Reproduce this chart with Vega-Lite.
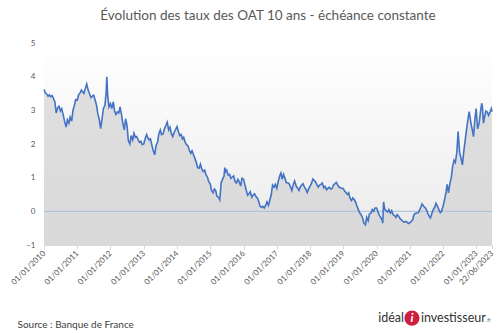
{
"$schema": "https://vega.github.io/schema/vega-lite/v6.json",
"width": 448, "height": 202,
"autosize": "none",
"padding": {"left": 44, "top": 43, "right": 8, "bottom": 88},
"background": "white",
"config": {"view": {"stroke": null}, "font": "Lato",
  "axisY": {"values": [-1, 0, 1, 2, 3, 4, 5], "format": "d", "ticks": false, "domain": false, "grid": false, "labelPadding": 9, "labelFontSize": 8, "labelColor": "#595959"}},
"title": {"text": "Évolution des taux des OAT 10 ans - échéance constante", "fontSize": 13.5, "fontWeight": "normal", "color": "#595959", "font": "Lato", "offset": 17, "anchor": "middle"},
"datasets": {"oat": [
{"d":"2010-01-01","v":3.62},{"d":"2010-01-15","v":3.52},{"d":"2010-02-01","v":3.48},{"d":"2010-02-15","v":3.42},{"d":"2010-03-01","v":3.46},{"d":"2010-03-15","v":3.40},{"d":"2010-04-01","v":3.44},{"d":"2010-04-15","v":3.35},{"d":"2010-05-01","v":3.25},{"d":"2010-05-15","v":2.92},{"d":"2010-06-01","v":3.08},{"d":"2010-06-15","v":3.12},{"d":"2010-07-01","v":2.98},{"d":"2010-07-15","v":3.05},{"d":"2010-08-01","v":2.85},{"d":"2010-08-15","v":2.68},{"d":"2010-09-01","v":2.50},{"d":"2010-09-15","v":2.72},{"d":"2010-10-01","v":2.62},{"d":"2010-10-15","v":2.80},{"d":"2010-11-01","v":2.68},{"d":"2010-11-15","v":3.00},{"d":"2010-12-01","v":3.15},{"d":"2010-12-15","v":3.32},
{"d":"2011-01-01","v":3.30},{"d":"2011-01-15","v":3.45},{"d":"2011-02-01","v":3.52},{"d":"2011-02-15","v":3.60},{"d":"2011-03-01","v":3.55},{"d":"2011-03-15","v":3.50},{"d":"2011-04-01","v":3.66},{"d":"2011-04-15","v":3.78},{"d":"2011-05-01","v":3.60},{"d":"2011-05-15","v":3.50},{"d":"2011-06-01","v":3.38},{"d":"2011-06-15","v":3.42},{"d":"2011-07-01","v":3.45},{"d":"2011-07-15","v":3.32},{"d":"2011-08-01","v":3.15},{"d":"2011-08-15","v":2.90},{"d":"2011-09-01","v":2.72},{"d":"2011-09-15","v":2.46},{"d":"2011-10-01","v":2.75},{"d":"2011-10-15","v":3.05},{"d":"2011-11-01","v":3.15},{"d":"2011-11-15","v":3.55},{"d":"2011-11-22","v":4.00},{"d":"2011-12-01","v":3.45},{"d":"2011-12-15","v":3.10},
{"d":"2012-01-01","v":3.20},{"d":"2012-01-15","v":3.05},{"d":"2012-02-01","v":3.25},{"d":"2012-02-15","v":2.98},{"d":"2012-03-01","v":2.88},{"d":"2012-03-15","v":2.95},{"d":"2012-04-01","v":2.92},{"d":"2012-04-15","v":3.10},{"d":"2012-05-01","v":2.88},{"d":"2012-05-15","v":2.62},{"d":"2012-06-01","v":2.42},{"d":"2012-06-15","v":2.75},{"d":"2012-07-01","v":2.55},{"d":"2012-07-15","v":2.10},{"d":"2012-08-01","v":2.00},{"d":"2012-08-15","v":2.25},{"d":"2012-09-01","v":2.12},{"d":"2012-09-15","v":2.32},{"d":"2012-10-01","v":2.20},{"d":"2012-10-15","v":2.22},{"d":"2012-11-01","v":2.12},{"d":"2012-11-15","v":2.05},{"d":"2012-12-01","v":2.08},{"d":"2012-12-15","v":1.98},
{"d":"2013-01-01","v":2.00},{"d":"2013-01-15","v":2.15},{"d":"2013-02-01","v":2.28},{"d":"2013-02-15","v":2.18},{"d":"2013-03-01","v":2.12},{"d":"2013-03-15","v":2.15},{"d":"2013-04-01","v":1.95},{"d":"2013-04-15","v":1.80},{"d":"2013-05-01","v":1.68},{"d":"2013-05-15","v":1.95},{"d":"2013-06-01","v":2.05},{"d":"2013-06-15","v":2.30},{"d":"2013-07-01","v":2.42},{"d":"2013-07-15","v":2.28},{"d":"2013-08-01","v":2.30},{"d":"2013-08-15","v":2.45},{"d":"2013-09-01","v":2.55},{"d":"2013-09-15","v":2.65},{"d":"2013-10-01","v":2.42},{"d":"2013-10-15","v":2.50},{"d":"2013-11-01","v":2.30},{"d":"2013-11-15","v":2.22},{"d":"2013-12-01","v":2.35},{"d":"2013-12-15","v":2.42},
{"d":"2014-01-01","v":2.52},{"d":"2014-01-15","v":2.38},{"d":"2014-02-01","v":2.25},{"d":"2014-02-15","v":2.28},{"d":"2014-03-01","v":2.15},{"d":"2014-03-15","v":2.20},{"d":"2014-04-01","v":2.05},{"d":"2014-04-15","v":1.98},{"d":"2014-05-01","v":1.95},{"d":"2014-05-15","v":1.82},{"d":"2014-06-01","v":1.72},{"d":"2014-06-15","v":1.80},{"d":"2014-07-01","v":1.68},{"d":"2014-07-15","v":1.58},{"d":"2014-08-01","v":1.45},{"d":"2014-08-15","v":1.30},{"d":"2014-09-01","v":1.28},{"d":"2014-09-15","v":1.40},{"d":"2014-10-01","v":1.25},{"d":"2014-10-15","v":1.18},{"d":"2014-11-01","v":1.22},{"d":"2014-11-15","v":1.08},{"d":"2014-12-01","v":1.02},{"d":"2014-12-15","v":0.88},
{"d":"2015-01-01","v":0.82},{"d":"2015-01-15","v":0.62},{"d":"2015-02-01","v":0.55},{"d":"2015-02-15","v":0.66},{"d":"2015-03-01","v":0.62},{"d":"2015-03-15","v":0.45},{"d":"2015-04-01","v":0.42},{"d":"2015-04-15","v":0.34},{"d":"2015-05-01","v":0.85},{"d":"2015-05-15","v":0.95},{"d":"2015-06-01","v":1.05},{"d":"2015-06-10","v":1.30},{"d":"2015-06-20","v":1.18},{"d":"2015-07-01","v":1.22},{"d":"2015-07-15","v":1.08},{"d":"2015-08-01","v":1.10},{"d":"2015-08-15","v":0.98},{"d":"2015-09-01","v":1.02},{"d":"2015-09-15","v":1.05},{"d":"2015-10-01","v":0.88},{"d":"2015-10-15","v":0.84},{"d":"2015-11-01","v":0.95},{"d":"2015-11-15","v":0.88},{"d":"2015-12-01","v":0.75},{"d":"2015-12-15","v":0.98},
{"d":"2016-01-01","v":0.95},{"d":"2016-01-15","v":0.80},{"d":"2016-02-01","v":0.62},{"d":"2016-02-15","v":0.48},{"d":"2016-03-01","v":0.52},{"d":"2016-03-15","v":0.58},{"d":"2016-04-01","v":0.42},{"d":"2016-04-15","v":0.48},{"d":"2016-05-01","v":0.52},{"d":"2016-05-15","v":0.45},{"d":"2016-06-01","v":0.40},{"d":"2016-06-15","v":0.30},{"d":"2016-07-01","v":0.15},{"d":"2016-07-15","v":0.12},{"d":"2016-08-01","v":0.15},{"d":"2016-08-15","v":0.10},{"d":"2016-09-01","v":0.18},{"d":"2016-09-15","v":0.28},{"d":"2016-10-01","v":0.18},{"d":"2016-10-15","v":0.32},{"d":"2016-11-01","v":0.50},{"d":"2016-11-15","v":0.78},{"d":"2016-12-01","v":0.72},{"d":"2016-12-15","v":0.80},
{"d":"2017-01-01","v":0.68},{"d":"2017-01-15","v":0.88},{"d":"2017-02-01","v":1.05},{"d":"2017-02-15","v":1.14},{"d":"2017-03-01","v":0.95},{"d":"2017-03-15","v":1.10},{"d":"2017-04-01","v":0.98},{"d":"2017-04-15","v":0.85},{"d":"2017-05-01","v":0.85},{"d":"2017-05-15","v":0.82},{"d":"2017-06-01","v":0.72},{"d":"2017-06-15","v":0.62},{"d":"2017-07-01","v":0.80},{"d":"2017-07-15","v":0.90},{"d":"2017-08-01","v":0.75},{"d":"2017-08-15","v":0.70},{"d":"2017-09-01","v":0.62},{"d":"2017-09-15","v":0.72},{"d":"2017-10-01","v":0.78},{"d":"2017-10-15","v":0.82},{"d":"2017-11-01","v":0.72},{"d":"2017-11-15","v":0.66},{"d":"2017-12-01","v":0.56},{"d":"2017-12-15","v":0.66},
{"d":"2018-01-01","v":0.75},{"d":"2018-01-15","v":0.82},{"d":"2018-02-01","v":0.96},{"d":"2018-02-15","v":0.92},{"d":"2018-03-01","v":0.88},{"d":"2018-03-15","v":0.80},{"d":"2018-04-01","v":0.72},{"d":"2018-04-15","v":0.78},{"d":"2018-05-01","v":0.80},{"d":"2018-05-15","v":0.84},{"d":"2018-06-01","v":0.70},{"d":"2018-06-15","v":0.74},{"d":"2018-07-01","v":0.64},{"d":"2018-07-15","v":0.68},{"d":"2018-08-01","v":0.72},{"d":"2018-08-15","v":0.66},{"d":"2018-09-01","v":0.68},{"d":"2018-09-15","v":0.78},{"d":"2018-10-01","v":0.82},{"d":"2018-10-15","v":0.86},{"d":"2018-11-01","v":0.78},{"d":"2018-11-15","v":0.72},{"d":"2018-12-01","v":0.70},{"d":"2018-12-15","v":0.68},
{"d":"2019-01-01","v":0.68},{"d":"2019-01-15","v":0.60},{"d":"2019-02-01","v":0.55},{"d":"2019-02-15","v":0.50},{"d":"2019-03-01","v":0.55},{"d":"2019-03-15","v":0.40},{"d":"2019-04-01","v":0.32},{"d":"2019-04-15","v":0.40},{"d":"2019-05-01","v":0.35},{"d":"2019-05-15","v":0.28},{"d":"2019-06-01","v":0.15},{"d":"2019-06-15","v":0.05},{"d":"2019-07-01","v":-0.05},{"d":"2019-07-15","v":-0.10},{"d":"2019-08-01","v":-0.20},{"d":"2019-08-15","v":-0.35},{"d":"2019-09-01","v":-0.40},{"d":"2019-09-15","v":-0.18},{"d":"2019-10-01","v":-0.28},{"d":"2019-10-15","v":-0.08},{"d":"2019-11-01","v":-0.05},{"d":"2019-11-15","v":0.05},{"d":"2019-12-01","v":0.00},{"d":"2019-12-15","v":0.10},
{"d":"2020-01-01","v":0.10},{"d":"2020-01-15","v":0.00},{"d":"2020-02-01","v":-0.12},{"d":"2020-02-15","v":-0.18},{"d":"2020-03-01","v":-0.25},{"d":"2020-03-09","v":-0.35},{"d":"2020-03-18","v":0.28},{"d":"2020-04-01","v":0.05},{"d":"2020-04-15","v":0.02},{"d":"2020-05-01","v":-0.02},{"d":"2020-05-15","v":0.05},{"d":"2020-06-01","v":-0.05},{"d":"2020-06-15","v":0.02},{"d":"2020-07-01","v":-0.10},{"d":"2020-07-15","v":-0.12},{"d":"2020-08-01","v":-0.18},{"d":"2020-08-15","v":-0.10},{"d":"2020-09-01","v":-0.15},{"d":"2020-09-15","v":-0.22},{"d":"2020-10-01","v":-0.25},{"d":"2020-10-15","v":-0.30},{"d":"2020-11-01","v":-0.32},{"d":"2020-11-15","v":-0.30},{"d":"2020-12-01","v":-0.32},{"d":"2020-12-15","v":-0.36},
{"d":"2021-01-01","v":-0.34},{"d":"2021-01-15","v":-0.30},{"d":"2021-02-01","v":-0.25},{"d":"2021-02-15","v":-0.10},{"d":"2021-03-01","v":-0.06},{"d":"2021-03-15","v":-0.05},{"d":"2021-04-01","v":-0.05},{"d":"2021-04-15","v":0.02},{"d":"2021-05-01","v":0.12},{"d":"2021-05-15","v":0.22},{"d":"2021-06-01","v":0.15},{"d":"2021-06-15","v":0.12},{"d":"2021-07-01","v":0.05},{"d":"2021-07-15","v":-0.05},{"d":"2021-08-01","v":-0.15},{"d":"2021-08-15","v":-0.20},{"d":"2021-09-01","v":-0.05},{"d":"2021-09-15","v":0.05},{"d":"2021-10-01","v":0.12},{"d":"2021-10-15","v":0.24},{"d":"2021-11-01","v":0.15},{"d":"2021-11-15","v":0.05},{"d":"2021-12-01","v":-0.04},{"d":"2021-12-15","v":0.00},
{"d":"2022-01-01","v":0.15},{"d":"2022-01-15","v":0.32},{"d":"2022-02-01","v":0.55},{"d":"2022-02-15","v":0.80},{"d":"2022-03-01","v":0.55},{"d":"2022-03-15","v":0.80},{"d":"2022-04-01","v":1.00},{"d":"2022-04-15","v":1.32},{"d":"2022-05-01","v":1.52},{"d":"2022-05-15","v":1.45},{"d":"2022-06-01","v":1.75},{"d":"2022-06-15","v":2.37},{"d":"2022-07-01","v":1.75},{"d":"2022-07-15","v":1.60},{"d":"2022-08-01","v":1.38},{"d":"2022-08-15","v":1.75},{"d":"2022-09-01","v":2.12},{"d":"2022-09-15","v":2.42},{"d":"2022-10-01","v":2.75},{"d":"2022-10-15","v":2.96},{"d":"2022-11-01","v":2.65},{"d":"2022-11-15","v":2.45},{"d":"2022-12-01","v":2.22},{"d":"2022-12-15","v":2.70},{"d":"2022-12-30","v":3.05},
{"d":"2023-01-15","v":2.45},{"d":"2023-02-01","v":2.62},{"d":"2023-02-15","v":2.95},{"d":"2023-03-01","v":3.21},{"d":"2023-03-08","v":3.12},{"d":"2023-03-20","v":2.62},{"d":"2023-04-01","v":2.80},{"d":"2023-04-15","v":2.98},{"d":"2023-05-01","v":2.95},{"d":"2023-05-15","v":2.85},{"d":"2023-06-01","v":2.95},{"d":"2023-06-15","v":3.05},{"d":"2023-06-22","v":2.96}
]},
"data": {"name": "oat"},
"encoding": {
  "x": {"field": "d", "type": "temporal",
    "scale": {"domain": [{"year": 2010, "month": 1, "date": 1}, {"year": 2023, "month": 6, "date": 22}]},
    "axis": {
      "values": [{"year":2010,"month":1,"date":1},{"year":2011,"month":1,"date":1},{"year":2012,"month":1,"date":1},{"year":2013,"month":1,"date":1},{"year":2014,"month":1,"date":1},{"year":2015,"month":1,"date":1},{"year":2016,"month":1,"date":1},{"year":2017,"month":1,"date":1},{"year":2018,"month":1,"date":1},{"year":2019,"month":1,"date":1},{"year":2020,"month":1,"date":1},{"year":2021,"month":1,"date":1},{"year":2022,"month":1,"date":1},{"year":2023,"month":1,"date":1},{"year":2023,"month":6,"date":22}],
      "format": "%d/%m/%Y", "labelAngle": -45, "labelAlign": "right", "labelBaseline": "middle",
      "labelFontSize": 8, "labelColor": "#595959", "labelPadding": 3, "labelOverlap": false, "labelBound": false, "labelFlush": false,
      "grid": false, "domainColor": "#d9d9d9", "tickColor": "#d9d9d9", "tickSize": 4,
      "title": "Source : Banque de France", "titleX": -27, "titleY": 82, "titleAnchor": "start", "titleAlign": "left", "titleBaseline": "alphabetic",
      "titleFontSize": 10, "titleFontWeight": "normal", "titleColor": "#404040", "titleFont": "Lato"
    }},
  "y": {"type": "quantitative", "scale": {"domain": [-1, 5]}, "title": null}
},
"layer": [
  {"mark": {"type": "area", "color": {"gradient": "linear", "x1": 0, "y1": 0, "x2": 0, "y2": 1, "stops": [{"offset": 0, "color": "#ffffff"}, {"offset": 0.75, "color": "#f0f0f0"}, {"offset": 1, "color": "#e6e6e6"}]}},
   "encoding": {"y": {"datum": 5, "type": "quantitative", "scale": {"domain": [-1, 5]}, "title": null}, "y2": {"datum": -1}}},
  {"mark": {"type": "area", "color": {"gradient": "linear", "x1": 0, "y1": 0, "x2": 0, "y2": 1, "stops": [{"offset": 0, "color": "#e0e0e0"}, {"offset": 1, "color": "#d9d9d9"}]}},
   "encoding": {"y": {"field": "v", "type": "quantitative", "scale": {"domain": [-1, 5]}, "title": null}, "y2": {"datum": -1}}},
  {"data": {"values": [{}]}, "mark": {"type": "rule", "color": "#a9bde0", "strokeWidth": 1},
   "encoding": {"x": null, "y": {"datum": 0, "type": "quantitative", "scale": {"domain": [-1, 5]}, "title": null}}},
  {"mark": {"type": "line", "color": "#4472c4", "strokeWidth": 1.6},
   "encoding": {"y": {"field": "v", "type": "quantitative", "scale": {"domain": [-1, 5]}, "title": null}}},
  {"transform": [{"filter": "datum.v == 4"}], "mark": {"type": "text", "align": "right", "baseline": "middle", "fontSize": 12.5, "color": "#333333", "font": "Lato"},
   "encoding": {"x": {"datum": {"year": 2020, "month": 10, "date": 28}, "type": "temporal"}, "y": {"datum": -3.17, "type": "quantitative"}, "text": {"value": "idéal"}}},
  {"transform": [{"filter": "datum.v == 4"}], "mark": {"type": "point", "shape": "circle", "filled": true, "size": 230, "color": "#cf1f3f", "opacity": 1},
   "encoding": {"x": {"datum": {"year": 2021, "month": 1, "date": 24}, "type": "temporal"}, "y": {"datum": -3.17, "type": "quantitative"}}},
  {"transform": [{"filter": "datum.v == 4"}], "mark": {"type": "text", "align": "center", "baseline": "middle", "fontSize": 12, "fontWeight": "bold", "fontStyle": "italic", "color": "#ffffff", "font": "Lato"},
   "encoding": {"x": {"datum": {"year": 2021, "month": 1, "date": 24}, "type": "temporal"}, "y": {"datum": -3.17, "type": "quantitative"}, "text": {"value": "i"}}},
  {"transform": [{"filter": "datum.v == 4"}], "mark": {"type": "text", "align": "left", "baseline": "middle", "fontSize": 12.5, "color": "#333333", "font": "Lato"},
   "encoding": {"x": {"datum": {"year": 2021, "month": 5, "date": 3}, "type": "temporal"}, "y": {"datum": -3.17, "type": "quantitative"}, "text": {"value": "investisseur"}}},
  {"transform": [{"filter": "datum.v == 4"}], "mark": {"type": "text", "align": "left", "baseline": "alphabetic", "fontSize": 5, "color": "#555555", "font": "Lato"},
   "encoding": {"x": {"datum": {"year": 2023, "month": 4, "date": 18}, "type": "temporal"}, "y": {"datum": -3.3, "type": "quantitative"}, "text": {"value": ".fr"}}}
]
}
